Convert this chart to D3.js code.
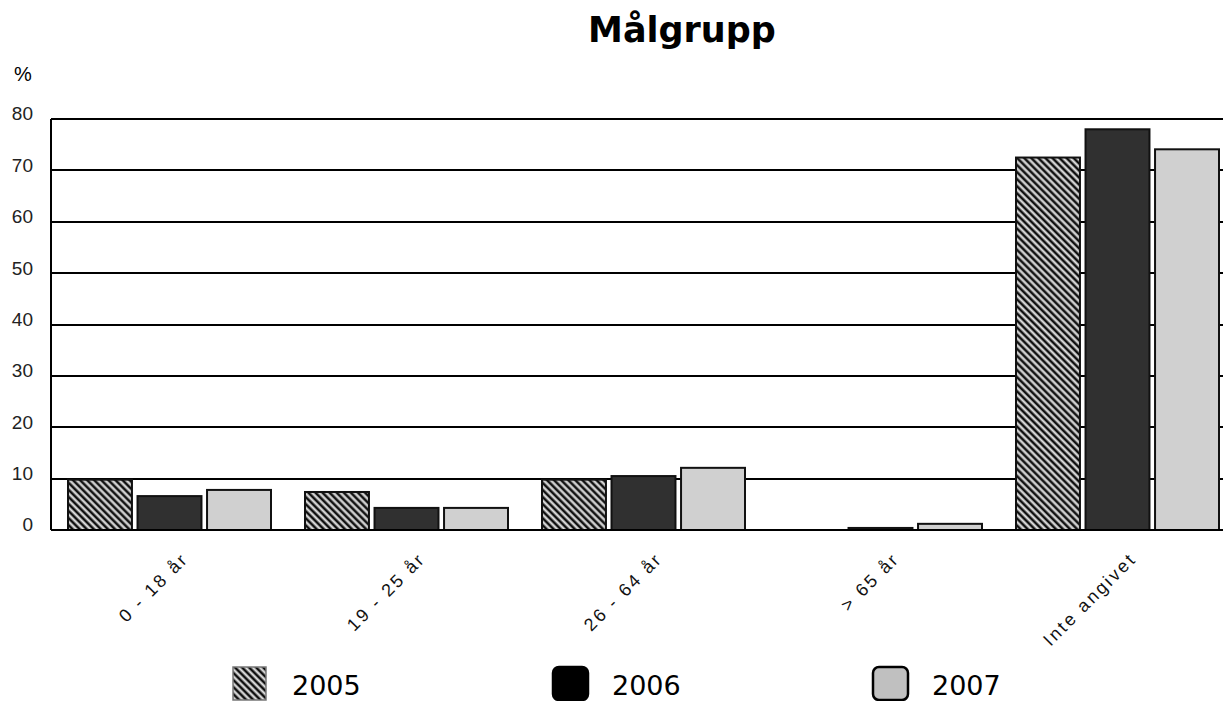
<!DOCTYPE html>
<html lang="sv">
<head>
<meta charset="utf-8">
<title>Målgrupp</title>
<script src="https://cdn.jsdelivr.net/npm/d3@7"></script>
<style>
  body { margin: 0; background: #fff; }
  .grid line { stroke: #000; stroke-width: 2; shape-rendering: crispEdges; }
  .ylab text { font-family: "Liberation Sans", Arial, sans-serif; font-size: 19px; fill: #222; }
  .xlab text { font-family: "Liberation Sans", Arial, sans-serif; font-size: 18px; letter-spacing: 2.5px; fill: #111; }
</style>
</head>
<body>
<script>
// data (percent)
var categories = ["0 - 18 år", "19 - 25 år", "26 - 64 år", "> 65 år", "Inte angivet"];
var years = ["2005", "2006", "2007"];
var values2005 = [9.8, 7.4, 9.8, 0, 72.5];
var values2006 = [6.6, 4.3, 10.5, 0.4, 78.0];
var values2007 = [7.8, 4.3, 12.1, 1.2, 74.1];
var yTicks = [0, 10, 20, 30, 40, 50, 60, 70, 80];

var w = 1223, h = 701;
var left = 51, groupStep = 237;

var series = [values2005, values2006, values2007];
var fills = ["url(#hatch)", "#303030", "#d0d0d0"];
var legendFills = ["url(#hatch)", "#000", "#c0c0c0"];

var svg = d3.select("body").append("svg")
    .attr("width", w)
    .attr("height", h);

// hatch pattern for 2005
var pat = svg.append("defs").append("pattern")
    .attr("id", "hatch")
    .attr("patternUnits", "userSpaceOnUse")
    .attr("width", 5)
    .attr("height", 5)
    .attr("patternTransform", "rotate(-45)");
pat.append("rect").attr("width", 5).attr("height", 5).attr("fill", "#fff");
pat.append("rect").attr("x", 0).attr("width", 2.2).attr("height", 5).attr("fill", "#111");
pat.append("rect").attr("x", 2.2).attr("width", 1).attr("height", 5).attr("fill", "#777");
pat.append("rect").attr("x", 4.3).attr("width", 0.7).attr("height", 5).attr("fill", "#888");

// scales
var x0 = d3.scaleBand()
    .domain(categories)
    .range([left, left + groupStep * categories.length]);

var x1 = d3.scaleBand()
    .domain(years)
    .range([17, 220])
    .paddingInner(0.08);

var y = d3.scaleLinear()
    .domain([0, 80])
    .range([530, 119]);

// title
svg.append("text")
    .attr("x", 682)
    .attr("y", 42)
    .attr("text-anchor", "middle")
    .attr("font-family", "DejaVu Sans, Verdana, sans-serif")
    .attr("font-weight", "bold")
    .attr("font-size", "35px")
    .text("Målgrupp");

svg.append("text")
    .attr("x", 14)
    .attr("y", 81)
    .attr("font-family", "Liberation Sans, Arial, sans-serif")
    .attr("font-size", "20px")
    .text("%");

// gridlines
svg.append("g").attr("class", "grid")
    .selectAll("line")
    .data(yTicks)
    .enter()
    .append("line")
    .attr("x1", left)
    .attr("x2", w)
    .attr("y1", function(d) { return y(d); })
    .attr("y2", function(d) { return y(d); });

svg.append("line")
    .attr("x1", left).attr("x2", left)
    .attr("y1", y(80)).attr("y2", y(0))
    .attr("stroke", "#000")
    .attr("stroke-width", 2)
    .attr("shape-rendering", "crispEdges");

// y labels
var yAxis = d3.axisLeft(y).tickValues(yTicks).tickSize(0).tickPadding(0);
var yg = svg.append("g")
    .attr("class", "ylab")
    .attr("transform", "translate(33,0)")
    .call(yAxis);
yg.select(".domain").remove();
yg.selectAll("text").attr("dy", "0.05em");

// bars
var groups = svg.append("g")
    .selectAll("g")
    .data(categories)
    .enter()
    .append("g")
    .attr("transform", function(d) { return "translate(" + x0(d) + ",0)"; });

groups.selectAll("rect")
    .data(function(d, i) {
        return years.map(function(yr, k) { return { year: yr, k: k, v: series[k][i] }; });
    })
    .enter()
    .filter(function(d) { return d.v > 0; })
    .append("rect")
    .attr("x", function(d) { return x1(d.year); })
    .attr("width", x1.bandwidth())
    .attr("y", function(d) { return y(d.v); })
    .attr("height", function(d) { return y(0) - y(d.v); })
    .attr("fill", function(d) { return fills[d.k]; })
    .attr("stroke", "#111")
    .attr("stroke-width", 2);

// bottom axis line
svg.append("line")
    .attr("x1", left).attr("x2", w)
    .attr("y1", y(0)).attr("y2", y(0))
    .attr("stroke", "#000")
    .attr("stroke-width", 2)
    .attr("shape-rendering", "crispEdges");

// category labels, rotated
svg.append("g").attr("class", "xlab")
    .selectAll("text")
    .data(categories)
    .enter()
    .append("text")
    .attr("text-anchor", "end")
    .attr("transform", function(d) {
        var cx = x0(d) + x0.bandwidth() / 2 + 20;
        return "translate(" + cx + ",560) rotate(-45)";
    })
    .text(function(d) { return d; });

// legend
var leg = svg.append("g")
    .selectAll("g")
    .data(years)
    .enter()
    .append("g")
    .attr("transform", function(d, i) { return "translate(" + (233 + i * 320) + ",667)"; });

leg.append("rect")
    .attr("width", function(d, i) { return i == 0 ? 33 : 35; })
    .attr("height", 33)
    .attr("rx", function(d, i) { return i == 0 ? 0 : 6; })
    .attr("fill", function(d, i) { return legendFills[i]; })
    .attr("stroke", function(d, i) { return i == 0 ? "#777" : "#000"; })
    .attr("stroke-width", function(d, i) { return i == 0 ? 1.5 : 2.5; });

leg.append("text")
    .attr("x", 59)
    .attr("y", 28)
    .attr("font-family", "DejaVu Sans, Verdana, sans-serif")
    .attr("font-size", "27px")
    .text(function(d) { return d; });
</script>
</body>
</html>
